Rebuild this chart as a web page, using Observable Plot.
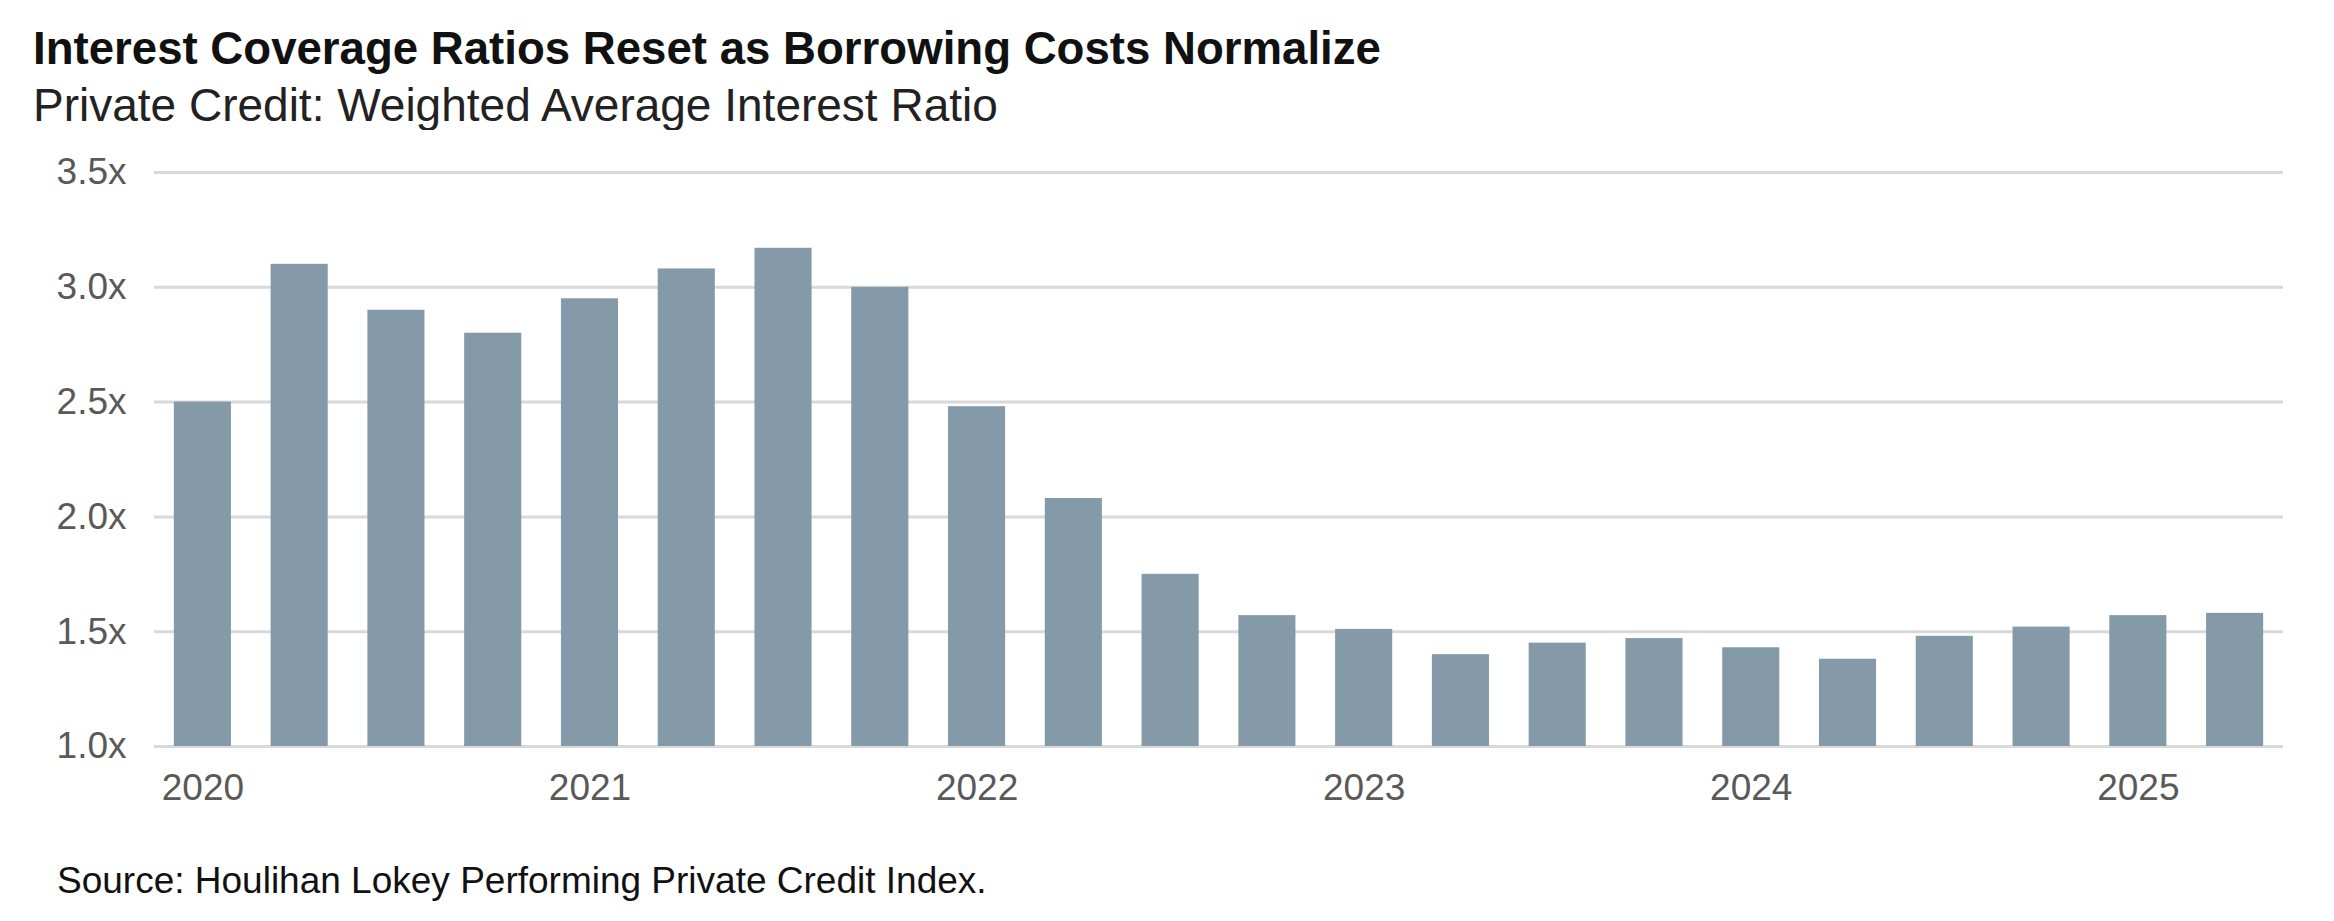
<!DOCTYPE html>
<html>
<head>
<meta charset="utf-8">
<script src="https://cdn.jsdelivr.net/npm/d3@7"></script>
<script src="https://cdn.jsdelivr.net/npm/@observablehq/plot@0.6"></script>
<style>
  html, body { margin: 0; padding: 0; background: #fff; }
  body { width: 2334px; height: 921px; position: relative; overflow: hidden;
         font-family: "Liberation Sans", Arial, Helvetica, sans-serif; }
  #title { position: absolute; left: 33px; top: 26px; font-size: 45.6px; line-height: 46px;
           font-weight: bold; color: #111; white-space: nowrap; }
  #subtitle { position: absolute; left: 33px; top: 82px; font-size: 46px; line-height: 46px;
              color: #222; white-space: nowrap; }
  #chart { position: absolute; left: 0; top: 130px; }
  #source { position: absolute; left: 57px; top: 862px; font-size: 37px; line-height: 37px;
            color: #111; white-space: nowrap; }
</style>
</head>
<body>
<div id="title">Interest Coverage Ratios Reset as Borrowing Costs Normalize</div>
<div id="subtitle">Private Credit: Weighted Average Interest Ratio</div>
<div id="chart"></div>
<div id="source">Source: Houlihan Lokey Performing Private Credit Index.</div>
<script>
// Quarterly periods, Q1 2020 – Q2 2025
const quarters = [
  "2020Q1","2020Q2","2020Q3","2020Q4",
  "2021Q1","2021Q2","2021Q3","2021Q4",
  "2022Q1","2022Q2","2022Q3","2022Q4",
  "2023Q1","2023Q2","2023Q3","2023Q4",
  "2024Q1","2024Q2","2024Q3","2024Q4",
  "2025Q1","2025Q2"
];
// Weighted average interest coverage ratio (x)
const coverage = [
  2.50, 3.10, 2.90, 2.80,
  2.95, 3.08, 3.17, 3.00,
  2.48, 2.08, 1.75, 1.57,
  1.51, 1.40, 1.45, 1.47,
  1.43, 1.38, 1.48, 1.52,
  1.57, 1.58
];
const yTicks = [1.0, 1.5, 2.0, 2.5, 3.0, 3.5];
const yearLabels = ["2020","2021","2022","2023","2024","2025"];
const baseline = 1.0;

const data = quarters.map((q, i) => ({ q, v: coverage[i] }));
const yearTickQuarters = yearLabels.map(y => y + "Q1");

const chart = Plot.plot({
  width: 2334,
  height: 686,
  marginTop: 42,
  marginBottom: 70,
  marginLeft: 154,
  marginRight: 51,
  style: { fontFamily: '"Liberation Sans", Arial, sans-serif', background: "#fff" },
  x: { type: "band", domain: quarters, paddingInner: 0.41, paddingOuter: 0.205, round: false, label: null },
  y: { domain: [1, 3.5], label: null },
  marks: [
    Plot.ruleY(yTicks, { stroke: "#d9d9d9", strokeWidth: 3 }),
    Plot.barY(data, { x: "q", y1: baseline, y2: "v", fill: "#849aa8" }),
    Plot.axisY({
      ticks: yTicks, tickSize: 0, tickPadding: 28,
      tickFormat: d => d3.format(".1f")(d) + "x",
      fontSize: 37, fill: "#595959", label: null
    }),
    Plot.axisX({
      ticks: yearTickQuarters, tickSize: 0, tickPadding: 27,
      tickFormat: d => d.slice(0, 4),
      fontSize: 37, fill: "#595959", label: null
    })
  ]
});
document.getElementById("chart").appendChild(chart);
</script>
</body>
</html>
